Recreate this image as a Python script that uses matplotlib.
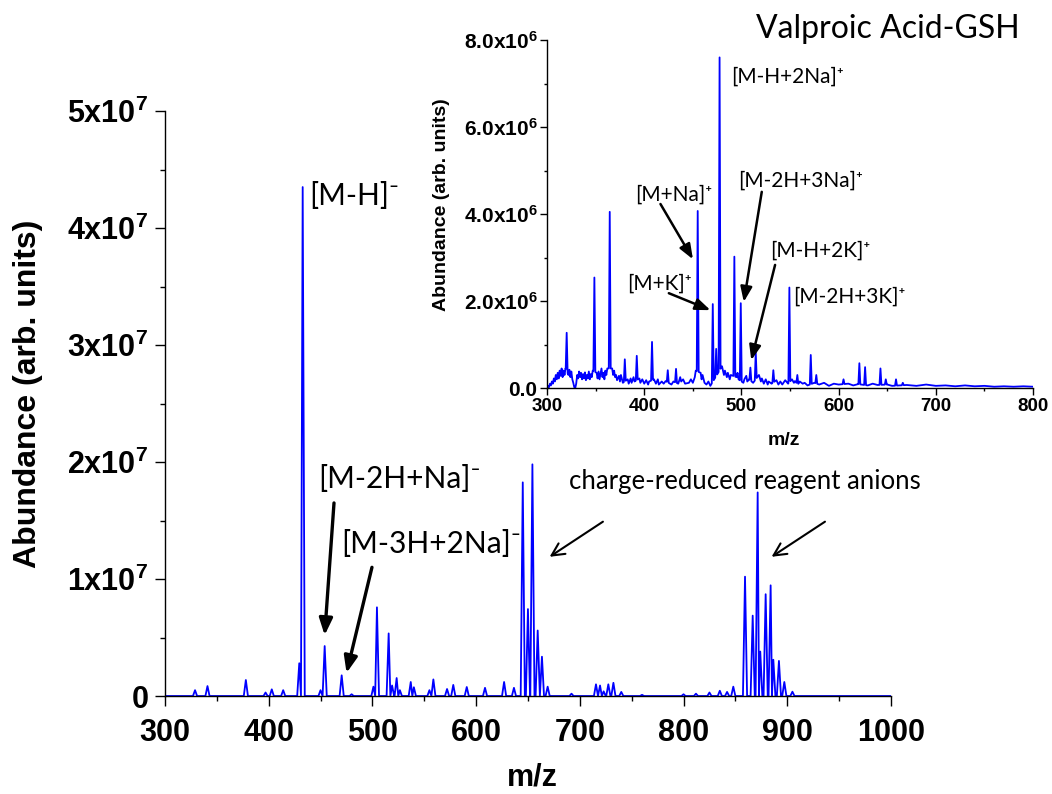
import numpy as np
import matplotlib
matplotlib.use("Agg")
import matplotlib.pyplot as plt
from matplotlib.ticker import MultipleLocator

plt.rcParams['mathtext.fontset'] = 'custom'
plt.rcParams['mathtext.rm'] = 'Lato'
plt.rcParams['mathtext.bf'] = 'Liberation Sans:bold'
plt.rcParams['font.family'] = ['Liberation Sans', 'DejaVu Sans']

# main spectrum (negative mode): peak m/z and abundance
main_mz = [329, 341, 378, 397, 403, 414, 429.5, 432.8, 450, 454, 470.4, 480,
           501, 504.4, 515.7, 519, 523.4, 526.5, 537, 540, 555, 558.8, 572, 578,
           591, 608.6, 627, 636.5, 645, 650, 654.3, 659.4, 663.5, 669, 692,
           715.6, 719.5, 723, 727.5, 732.4, 740, 760, 800, 812, 825, 835, 842,
           848, 859.3, 866.7, 871.5, 874, 879.2, 884, 886.6, 892, 897.2, 905]
main_ab = [0.5e6, 0.85e6, 1.37e6, 0.3e6, 0.57e6, 0.5e6, 2.8e6, 4.35e7, 0.5e6,
           4.27e6, 1.77e6, 0.15e6, 0.8e6, 7.58e6, 5.35e6, 0.9e6, 1.54e6, 0.5e6,
           1.2e6, 0.75e6, 0.5e6, 1.42e6, 0.6e6, 0.95e6, 0.77e6, 0.7e6, 1.2e6,
           0.7e6, 1.826e7, 7.43e6, 1.98e7, 5.6e6, 3.36e6, 0.8e6, 0.2e6, 1.0e6,
           0.9e6, 0.4e6, 1.0e6, 1.13e6, 0.35e6, 0.1e6, 0.15e6, 0.2e6, 0.3e6,
           0.45e6, 0.35e6, 0.8e6, 1.02e7, 6.87e6, 1.74e7, 3.8e6, 8.7e6, 9.46e6,
           3.1e6, 3.0e6, 1.2e6, 0.37e6]
main_base_mz = [300, 1000]
main_base_ab = [0.0, 0.0]

# inset spectrum (positive mode)
ins_mz = [320.2, 348.7, 364.5, 380, 392.3, 408, 424.2, 432.7, 455, 470.5, 474,
          477.5, 492.7, 499.3, 509.2, 514.7, 532.8, 549.3, 557.5, 571.3, 577,
          605, 621.3, 627.2, 643, 648.5, 659, 666]
ins_ab = [1.27e6, 2.54e6, 4.05e6, 0.66e6, 0.74e6, 1.06e6, 0.41e6, 0.44e6,
          4.07e6, 1.93e6, 0.9e6, 7.6e6, 3.02e6, 1.95e6, 0.47e6, 0.83e6, 0.41e6,
          2.31e6, 0.3e6, 0.76e6, 0.3e6, 0.2e6, 0.57e6, 0.48e6, 0.45e6, 0.2e6,
          0.2e6, 0.12e6]
# noisy baseline of the inset, read point by point (units of 1e6)
ins_base_mz = [300, 301, 302, 303, 304, 305, 306, 307, 308, 309,
               310, 311, 312, 313, 314, 315, 316, 317, 318, 319,
               322, 323, 324, 325, 326, 327, 328, 329, 330, 331,
               332, 333, 334, 335, 336, 337, 338, 339, 340, 341,
               342, 343, 344, 345, 346, 347, 351, 352, 353, 354,
               355, 356, 357, 358, 359, 360, 361, 362, 367, 368,
               369, 370, 371, 372, 374, 375, 376, 378, 383, 384,
               386, 387, 389, 390, 395, 396, 398, 400, 402, 404,
               405, 410, 412, 414, 415, 418, 420, 422, 428, 430,
               435, 437, 438, 440, 442, 446, 448, 450, 452, 453,
               458, 459, 460, 462, 464, 466, 468, 480, 482, 483,
               485, 486, 488, 489, 495, 496, 497, 502, 503, 505,
               506, 508, 512, 518, 520, 521, 523, 525, 527, 528,
               531, 536, 538, 540, 542, 545, 548, 552, 554, 555,
               558, 560, 563, 565, 568, 575, 580, 585, 590, 595,
               600, 610, 615, 620, 630, 635, 640, 650, 655, 670,
               680, 690, 700, 710, 720, 730, 740, 750, 760, 770,
               780, 790, 800]
ins_base_ab = [0.0, 0.05, 0.02, 0.1, 0.06, 0.15, 0.1, 0.22, 0.15, 0.3,
               0.2, 0.35, 0.22, 0.4, 0.28, 0.45, 0.25, 0.4, 0.3, 0.45,
               0.3, 0.42, 0.25, 0.38, 0.2, 0.12, 0.02, 0.0, 0.1, 0.3,
               0.22, 0.38, 0.25, 0.35, 0.2, 0.32, 0.22, 0.36, 0.18, 0.3,
               0.22, 0.38, 0.2, 0.32, 0.25, 0.4, 0.35, 0.22, 0.38, 0.2,
               0.32, 0.45, 0.25, 0.35, 0.2, 0.4, 0.3, 0.45, 0.45, 0.3,
               0.4, 0.25, 0.3, 0.18, 0.28, 0.15, 0.3, 0.12, 0.2, 0.1,
               0.22, 0.12, 0.25, 0.15, 0.22, 0.12, 0.2, 0.1, 0.18, 0.08,
               0.15, 0.2, 0.1, 0.2, 0.08, 0.15, 0.1, 0.16, 0.08, 0.15,
               0.1, 0.25, 0.15, 0.2, 0.1, 0.12, 0.2, 0.12, 0.25, 0.4,
               0.35, 0.2, 0.3, 0.12, 0.08, 0.15, 0.05, 0.5, 0.3, 0.4,
               0.25, 0.35, 0.2, 0.3, 0.25, 0.35, 0.2, 0.12, 0.2, 0.28,
               0.15, 0.2, 0.12, 0.3, 0.15, 0.22, 0.1, 0.2, 0.08, 0.15,
               0.1, 0.18, 0.08, 0.15, 0.08, 0.18, 0.1, 0.2, 0.12, 0.16,
               0.08, 0.15, 0.1, 0.12, 0.06, 0.12, 0.08, 0.12, 0.05, 0.1,
               0.08, 0.1, 0.06, 0.09, 0.06, 0.1, 0.07, 0.08, 0.05, 0.07,
               0.05, 0.08, 0.05, 0.06, 0.04, 0.06, 0.04, 0.05, 0.03, 0.04,
               0.03, 0.04, 0.03]
ins_base_ab = [v * 1e6 for v in ins_base_ab]


def spectrum(mz, ab, base_mz, base_ab, w):
    """peaks as narrow triangles on top of the baseline points"""
    mz = np.asarray(mz, float)
    ab = np.asarray(ab, float)
    order = np.argsort(mz)
    mz, ab = mz[order], ab[order]
    pts = []
    for i, (m, h) in enumerate(zip(mz, ab)):
        wl = w if i == 0 else min(w, (m - mz[i - 1]) / 2)
        wr = w if i == len(mz) - 1 else min(w, (mz[i + 1] - m) / 2)
        pts.append((m - wl, np.interp(m - wl, base_mz, base_ab)))
        pts.append((m, h))
        pts.append((m + wr, np.interp(m + wr, base_mz, base_ab)))
    for bm, ba in zip(base_mz, base_ab):
        if np.all(np.abs(mz - bm) > w):
            pts.append((bm, ba))
    pts.sort(key=lambda p: p[0])
    x, y = zip(*pts)
    return np.array(x), np.array(y)


fig = plt.figure(figsize=(10.52, 7.94), dpi=100)
ax = fig.add_axes([0.1568, 0.1234, 0.6901, 0.7368])
ins = fig.add_axes([0.5200, 0.5113, 0.4620, 0.4383])
ins.patch.set_alpha(0)

x, y = spectrum(main_mz, main_ab, main_base_mz, main_base_ab, 2.0)
ax.plot(x, y, color='#0000FF', lw=1.3)
x, y = spectrum(ins_mz, ins_ab, ins_base_mz, ins_base_ab, 1.0)
ins.plot(x, y, color='#0000FF', lw=1.3)

for a in (ax, ins):
    a.spines['top'].set_visible(False)
    a.spines['right'].set_visible(False)
    for s in ('left', 'bottom'):
        a.spines[s].set_linewidth(1.0)

ax.set_xlim(300, 1000)
ax.set_ylim(0, 5e7)
ax.xaxis.set_major_locator(MultipleLocator(100))
ax.xaxis.set_minor_locator(MultipleLocator(50))
ax.yaxis.set_minor_locator(MultipleLocator(0.5e7))
ax.set_yticks([0, 1e7, 2e7, 3e7, 4e7, 5e7])
ax.set_yticklabels(['0'] + [r'$\mathbf{%dx10^{7}}$' % i for i in range(1, 6)])
ax.tick_params(which='major', length=7, width=1.0, labelsize=22, pad=5)
ax.tick_params(which='minor', length=3.5, width=1.0)
ax.tick_params(axis='x', pad=9)
for lab in ax.get_xticklabels() + ax.get_yticklabels():
    lab.set_fontweight('bold')
ax.set_xlabel('m/z', fontsize=22, fontweight='bold')
ax.set_ylabel('Abundance (arb. units)', fontsize=23, fontweight='bold')
ax.xaxis.set_label_coords(0.5055, -0.140)
ax.xaxis.label.set_va('center')
ax.yaxis.set_label_coords(-0.189, 0.517)
ax.yaxis.label.set_va('center')

ins.set_xlim(300, 800)
ins.set_ylim(0, 8e6)
ins.xaxis.set_major_locator(MultipleLocator(100))
ins.xaxis.set_minor_locator(MultipleLocator(50))
ins.yaxis.set_minor_locator(MultipleLocator(1e6))
ins.set_yticks([0, 2e6, 4e6, 6e6, 8e6])
ins.set_yticklabels(['0.0'] + [r'$\mathbf{%d.0x10^{6}}$' % i for i in (2, 4, 6, 8)])
ins.tick_params(which='major', length=5, width=1.0, pad=2)
ins.tick_params(which='minor', length=2.5, width=1.0)
ins.tick_params(axis='x', labelsize=13.5, pad=2)
ins.tick_params(axis='y', labelsize=15)
for lab in ins.get_xticklabels() + ins.get_yticklabels():
    lab.set_fontweight('bold')
ins.set_xlabel('m/z', fontsize=14, fontweight='bold')
ins.set_ylabel('Abundance (arb. units)', fontsize=14, fontweight='bold')
ins.xaxis.set_label_coords(0.488, -0.152)
ins.xaxis.label.set_va('center')
ins.yaxis.set_label_coords(-0.217, 0.526)
ins.yaxis.label.set_va('center')

lato = ['Lato', 'DejaVu Sans']
fig.text(756 / 1052, 1 - 38 / 794, 'Valproic Acid-GSH', family=lato,
         fontsize=23, ha='left', va='baseline')

# main annotations
big = dict(family=lato, fontsize=21.5, ha='left', va='center')
ax.text(438.8, 4.27e7, '[M-H]\u207b', **big)
ax.text(448, 1.855e7, '[M-2H+Na]\u207b', **big)
ax.text(470.2, 1.30e7, '[M-3H+2Na]\u207b', **big)
ax.text(689.5, 1.83e7, 'charge-reduced reagent anions', family=lato,
        fontsize=18.5, ha='left', va='center')

solid = dict(arrowstyle='-|>,head_length=1.0,head_width=0.4', lw=2.4,
             color='black', mutation_scale=10, shrinkA=0, shrinkB=0)
open_ = dict(arrowstyle='->,head_length=0.9,head_width=0.45', lw=1.5,
             color='black', mutation_scale=10, shrinkA=0, shrinkB=0)
ax.annotate('', xy=(454, 0.52e7), xytext=(463, 1.65e7), arrowprops=solid)
ax.annotate('', xy=(475.1, 0.197e7), xytext=(499.6, 1.10e7), arrowprops=solid)
ax.annotate('', xy=(670.9, 1.19e7), xytext=(722.3, 1.49e7), arrowprops=open_)
ax.annotate('', xy=(884.9, 1.19e7), xytext=(936.4, 1.49e7), arrowprops=open_)

# inset annotations
small = dict(family=lato, fontsize=15, ha='left', va='center')
ins.text(489.3, 7.15e6, '[M-H+2Na]\u207a', **small)
ins.text(390.5, 4.44e6, '[M+Na]\u207a', **small)
ins.text(496.5, 4.76e6, '[M-2H+3Na]\u207a', **small)
ins.text(529.4, 3.15e6, '[M-H+2K]\u207a', **small)
ins.text(382.3, 2.41e6, '[M+K]\u207a', **small)
ins.text(553.1, 2.09e6, '[M-2H+3K]\u207a', **small)

solid_s = dict(arrowstyle='-|>,head_length=0.9,head_width=0.35', lw=1.8,
               color='black', mutation_scale=10, shrinkA=0, shrinkB=0)
ins.annotate('', xy=(450.1, 2.96e6), xytext=(416.7, 4.23e6), arrowprops=solid_s)
ins.annotate('', xy=(468.1, 1.79e6), xytext=(425.3, 2.18e6), arrowprops=solid_s)
ins.annotate('', xy=(502.4, 1.98e6), xytext=(520.9, 4.51e6), arrowprops=solid_s)
ins.annotate('', xy=(510.1, 0.64e6), xytext=(534.6, 2.83e6), arrowprops=solid_s)

fig.savefig('out.png', dpi=100)
